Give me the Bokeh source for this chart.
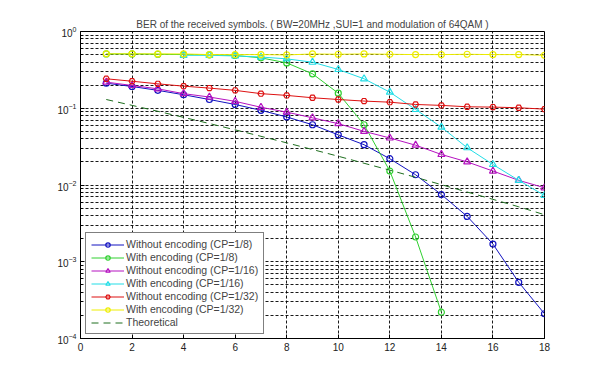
from bokeh.plotting import figure
from bokeh.models import FixedTicker, Legend, LegendItem
from bokeh.embed import file_html
from bokeh.resources import INLINE

# ---- data ----
snr = list(range(1, 19))
snr_enc8 = list(range(1, 15))
snr_enc16 = list(range(4, 19))

ber_noenc_cp8 = [0.212, 0.192, 0.171, 0.150, 0.130, 0.112, 0.094, 0.077, 0.061,
                 0.045, 0.0335, 0.022, 0.0136, 0.0075, 0.0039, 0.0017, 0.00054, 0.00021]
ber_enc_cp8 = [0.51, 0.51, 0.505, 0.50, 0.497, 0.487, 0.454, 0.39, 0.281,
               0.157, 0.061, 0.0152, 0.0021, 0.00022]
ber_noenc_cp16 = [0.219, 0.198, 0.179, 0.155, 0.140, 0.123, 0.103, 0.089, 0.075,
                  0.063, 0.050, 0.041, 0.033, 0.025, 0.020, 0.0152, 0.0115, 0.0092]
ber_enc_cp16 = [0.49, 0.49, 0.48, 0.465, 0.44, 0.398, 0.32, 0.242, 0.162,
                0.0964, 0.0567, 0.0306, 0.0185, 0.0115, 0.0073]
ber_noenc_cp32 = [0.242, 0.225, 0.208, 0.194, 0.183, 0.171, 0.155, 0.147, 0.137,
                  0.130, 0.124, 0.120, 0.112, 0.109, 0.1045, 0.1035, 0.1015, 0.0974]
ber_enc_cp32 = [0.512, 0.512, 0.510, 0.510, 0.50, 0.50, 0.50, 0.495, 0.51,
                0.505, 0.51, 0.505, 0.50, 0.50, 0.505, 0.50, 0.50, 0.49]
ber_theory = [0.130, 0.109, 0.0913, 0.0761, 0.0632, 0.0523, 0.0431, 0.0354, 0.0290,
              0.0237, 0.0192, 0.0156, 0.0126, 0.0101, 0.0081, 0.0065, 0.0052, 0.0041]

labels = ["Without encoding (CP=1/8)", "With encoding (CP=1/8)",
          "Without encoding (CP=1/16)", "With encoding (CP=1/16)",
          "Without encoding (CP=1/32)", "With encoding (CP=1/32)", "Theoretical"]
title_text = "BER of the received symbols. ( BW=20MHz ,SUI=1 and modulation of 64QAM )"

x_ticks = [0, 2, 4, 6, 8, 10, 12, 14, 16, 18]
y_ticks = [1e-4, 1e-3, 1e-2, 1e-1, 1e0]
y_minor = [m * 10.0 ** k for k in range(-4, 0) for m in range(2, 10)]

FONT = "Liberation Sans"

p = figure(width=600, height=376, y_axis_type="log", x_range=(0, 18), y_range=(1e-4, 1),
           output_backend="svg", toolbar_location=None,
           min_border_left=80, min_border_right=56, min_border_top=31, min_border_bottom=38)

p.title.text = title_text
p.title.align = "center"
p.title.text_font = FONT
p.title.text_font_size = "10px"
p.title.text_font_style = "normal"
p.title.standoff = 3

p.background_fill_color = "white"
p.border_fill_color = "white"
p.outline_line_color = "black"
p.outline_line_width = 1
p.outline_line_alpha = 1

p.xaxis.ticker = FixedTicker(ticks=x_ticks)
p.yaxis.ticker = FixedTicker(ticks=y_ticks, minor_ticks=y_minor)
for ax in (p.xaxis, p.yaxis):
    ax.axis_line_color = "black"
    ax.major_tick_in = 4
    ax.major_tick_out = 0
    ax.minor_tick_in = 2
    ax.minor_tick_out = 0
    ax.major_tick_line_color = "black"
    ax.major_label_text_font = FONT
    ax.major_label_text_font_size = "10px"
    ax.major_label_text_color = "#222222"
    ax.major_label_standoff = 4
p.xaxis.minor_tick_line_color = None

for g in (p.xgrid, p.ygrid):
    g.grid_line_color = "black"
    g.grid_line_dash = "3 2"
    g.grid_line_width = 1
    g.grid_line_alpha = 0.9
p.ygrid.minor_grid_line_color = "black"
p.ygrid.minor_grid_line_dash = "3 2"
p.ygrid.minor_grid_line_alpha = 0.9

series = [
    (snr, ber_noenc_cp8, "#1212c0", "circle", 6),
    (snr_enc8, ber_enc_cp8, "#30d030", "circle", 6),
    (snr, ber_noenc_cp16, "#b512c0", "triangle", 7),
    (snr_enc16, ber_enc_cp16, "#22dde6", "triangle", 7),
    (snr, ber_noenc_cp32, "#dd1111", "hex", 6),
    (snr, ber_enc_cp32, "#eeee00", "circle", 6),
]

items = []
for (xs, ys, col, mk, sz), lab in zip(series, labels):
    r1 = p.line(xs, ys, line_color=col, line_width=1)
    r2 = p.scatter(xs, ys, marker=mk, size=sz, line_color=col, fill_color=None, line_width=1.2)
    items.append(LegendItem(label=lab, renderers=[r1, r2]))

rt = p.line(snr, ber_theory, line_color="#1e6e1e", line_width=1, line_dash="7 5")
items.append(LegendItem(label=labels[-1], renderers=[rt]))

legend = Legend(items=items, location=(5, 4))
legend.label_text_font = FONT
legend.label_text_font_size = "10.5px"
legend.label_height = 11
legend.glyph_height = 11
legend.glyph_width = 33
legend.label_standoff = 2
legend.spacing = 1
legend.padding = 5
legend.margin = 0
legend.border_line_color = "black"
legend.border_line_width = 1
legend.background_fill_color = "white"
legend.background_fill_alpha = 1
p.add_layout(legend, "center")

open("out.html", "w").write(file_html(p, INLINE))
